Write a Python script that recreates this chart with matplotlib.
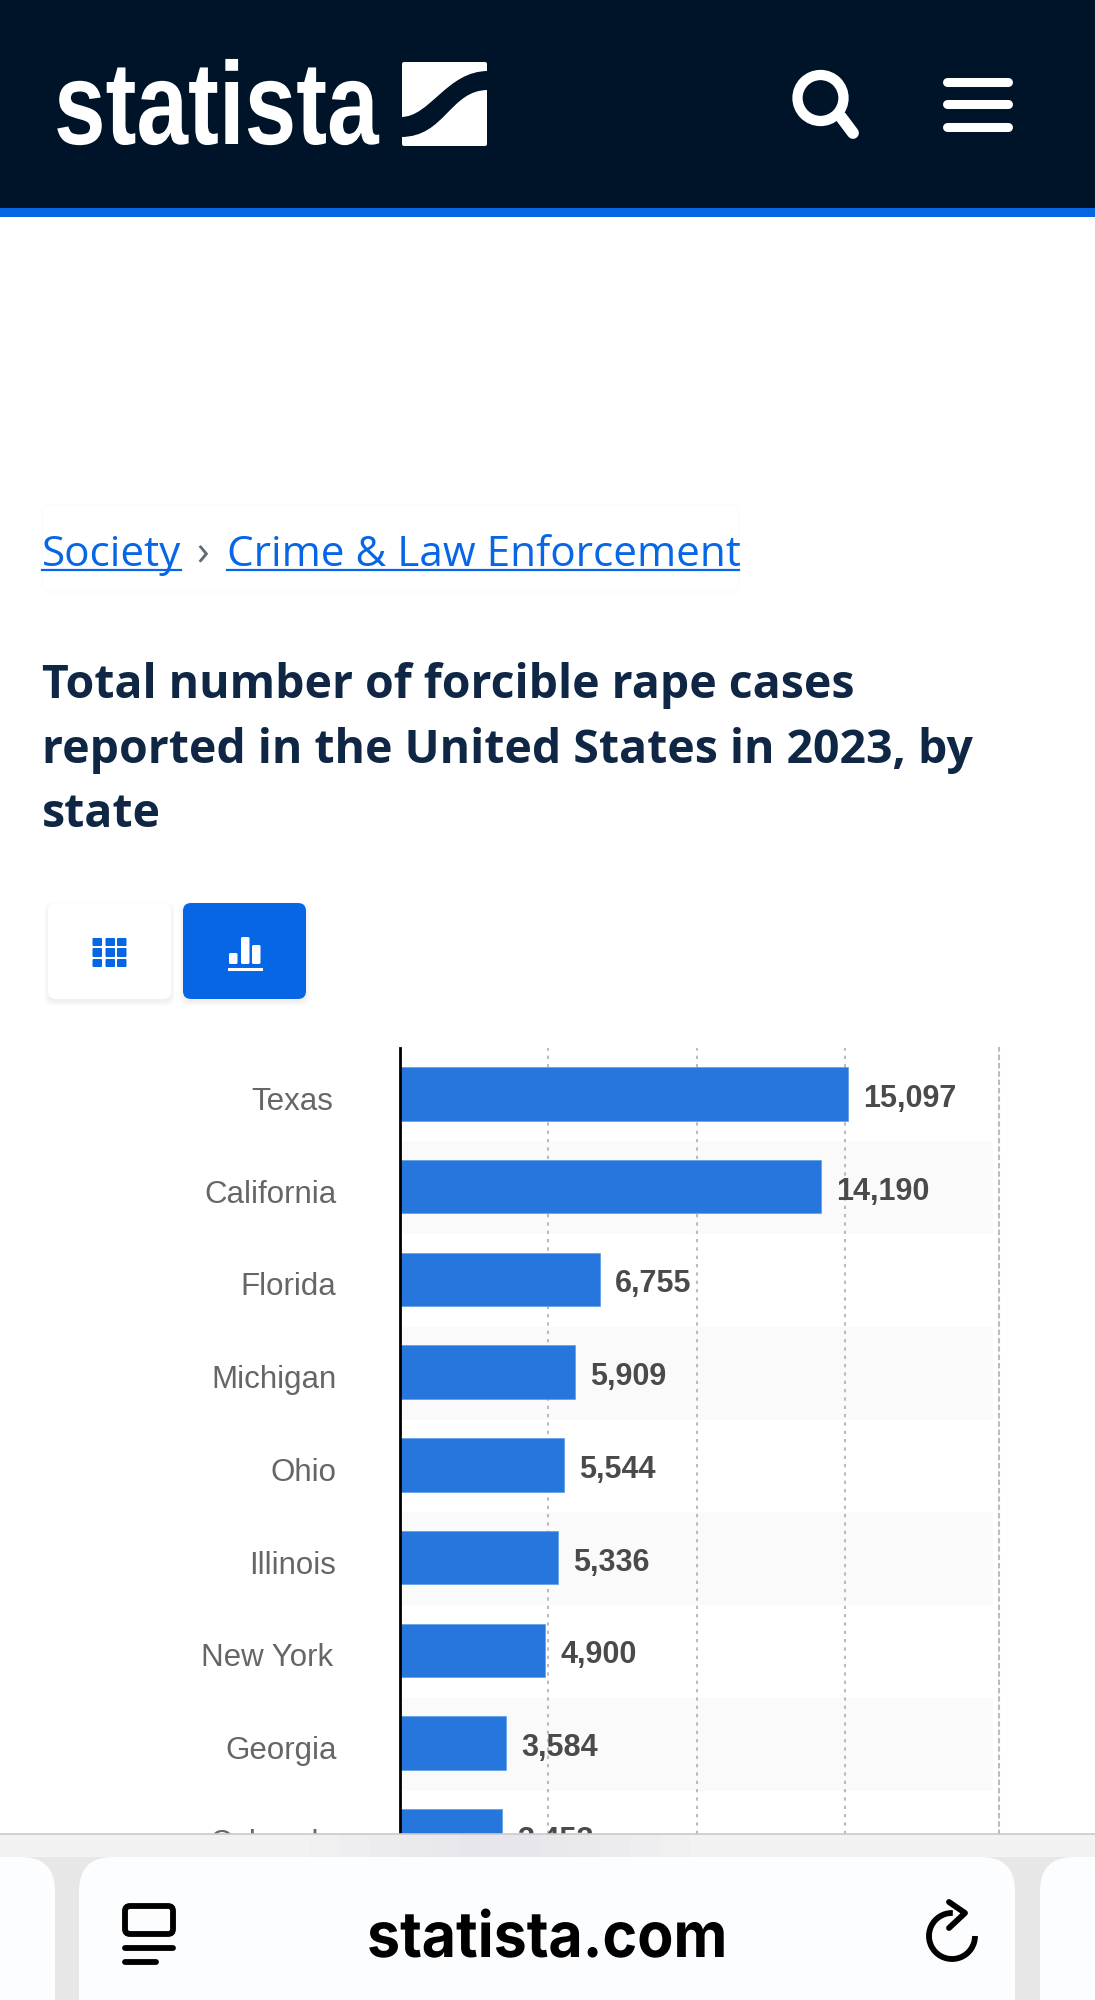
#!/usr/bin/env python3
# Statista mobile page screenshot: forcible rape cases by state, 2023.
# Page furniture is drawn in pixel coords, the chart itself in its own axes.

import matplotlib
matplotlib.use("Agg")
import matplotlib.pyplot as plt
from matplotlib.patches import Rectangle, FancyBboxPatch, PathPatch, Circle, Arc
from matplotlib.path import Path
from matplotlib.patheffects import AbstractPathEffect
from matplotlib.ticker import FixedLocator
from matplotlib.transforms import Affine2D

W, H = 1095, 2000
NAVY = "#001429"
BLUE = "#0666e5"
BAR = "#2776dd"
TITLE = "#0f2744"

# state, cases, small nudge of the label in px (the source labels are not quite aligned)
rows = [
    ("Texas", 15097, -3),
    ("California", 14190, 0),
    ("Florida", 6755, 0),
    ("Michigan", 5909, 0),
    ("Ohio", 5544, 0),
    ("Illinois", 5336, 0),
    ("New York", 4900, -3),
    ("Georgia", 3584, 0),
    ("Colorado", 3453, 0),
]


class Squeeze(AbstractPathEffect):
    # narrows a text around its own left edge, no condensed fonts are installed
    def __init__(self, sx):
        super().__init__()
        self.sx = sx

    def draw_path(self, renderer, gc, tpath, affine, rgbFace=None):
        x0 = affine.to_values()[4]
        squeezed = affine + Affine2D().translate(-x0, 0).scale(self.sx, 1).translate(x0, 0)
        renderer.draw_path(gc, tpath, squeezed, rgbFace)


fig = plt.figure(figsize=(W / 100, H / 100), dpi=100, facecolor="white")


def px_axes(zorder):
    a = fig.add_axes([0, 0, 1, 1], zorder=zorder)
    a.set_xlim(0, W)
    a.set_ylim(H, 0)
    a.axis("off")
    a.patch.set_alpha(0)
    return a


page = px_axes(0)

# header
page.add_patch(Rectangle((0, 0), W, 208, fc=NAVY, ec="none"))
page.add_patch(Rectangle((0, 208), W, 8.5, fc=BLUE, ec="none"))
page.text(54, 144, "statista", color="white", fontsize=84.5, fontweight="bold",
          family="Liberation Sans", ha="left", va="baseline", path_effects=[Squeeze(0.79)])

# logo mark, the dark s-curve cut through a white square
page.add_patch(FancyBboxPatch((402, 62), 85, 84, boxstyle="round,pad=0,rounding_size=2",
                              fc="white", ec="none"))
s_curve = Path(
    [(488, 71), (447, 71), (430, 117), (401, 117),
     (401, 137), (445, 137), (450, 90), (488, 90), (488, 71)],
    [Path.MOVETO, Path.CURVE4, Path.CURVE4, Path.CURVE4,
     Path.LINETO, Path.CURVE4, Path.CURVE4, Path.CURVE4, Path.CLOSEPOLY],
)
page.add_patch(PathPatch(s_curve, fc=NAVY, ec="none"))

# search + menu icons
page.add_patch(Circle((820.5, 98), 23, fc="none", ec="white", lw=7.4))
page.plot([841, 853], [117, 133], color="white", lw=8.5, solid_capstyle="round")
for y in (82, 104, 127):
    page.plot([947, 1008], [y, y], color="white", lw=6.5, solid_capstyle="round")

# breadcrumb
page.add_patch(FancyBboxPatch((42, 505), 697, 87, boxstyle="round,pad=0,rounding_size=6",
                              fc="#ffffff", ec="#fcfcfc", lw=1))
page.text(42, 566, "Society", color=BLUE, fontsize=30.45, family="Open Sans")
page.text(196, 566, "›", color="#5c6b7a", fontsize=30.45, family="Open Sans")
page.text(227, 566, "Crime & Law Enforcement", color=BLUE, fontsize=30.45, family="Open Sans")
page.plot([42, 181], [569.5, 569.5], color=BLUE, lw=1.6)
page.plot([227, 739], [569.5, 569.5], color=BLUE, lw=1.6)

# title
title_lines = [
    (698, "Total number of forcible rape cases"),
    (763, "reported in the United States in 2023, by"),
    (827, "state"),
]
for y, line in title_lines:
    page.text(42, y, line, color=TITLE, fontsize=33.4, fontweight="bold", family="Open Sans")

# table / chart switch
for i in range(5):
    page.add_patch(FancyBboxPatch((48 - i, 903 + 3 - i), 123 + 2 * i, 96 + 2 * i,
                                  boxstyle="round,pad=0,rounding_size=9",
                                  fc="#000000", ec="none", alpha=0.01))
    page.add_patch(FancyBboxPatch((183 - i, 903 + 3 - i), 123 + 2 * i, 96 + 2 * i,
                                  boxstyle="round,pad=0,rounding_size=9",
                                  fc="#000000", ec="none", alpha=0.01))
page.add_patch(FancyBboxPatch((48, 903), 123, 96, boxstyle="round,pad=0,rounding_size=8",
                              fc="white", ec="none"))
page.add_patch(FancyBboxPatch((183, 903), 123, 96, boxstyle="round,pad=0,rounding_size=8",
                              fc=BLUE, ec="none"))
for cx in (92.5, 105.5, 117):
    for cy, ch in ((938, 8), (948, 9), (959, 8)):
        page.add_patch(FancyBboxPatch((cx, cy), 9.5, ch, boxstyle="round,pad=0,rounding_size=1",
                                      fc=BLUE, ec="none"))
for x0, top in ((229, 953), (241, 937), (252, 945)):
    page.add_patch(FancyBboxPatch((x0, top), 8.5, 964 - top, boxstyle="round,pad=0,rounding_size=1.5",
                                  fc="white", ec="none"))
page.plot([229, 261], [969, 969], color="white", lw=2.2)

# the chart; the last x limit is the dotted right border
ax_left, ax_right, ax_top, ax_bottom = 400, 999, 1048, 1834
ax = fig.add_axes([ax_left / W, 1 - ax_bottom / H, (ax_right - ax_left) / W, (ax_bottom - ax_top) / H],
                  zorder=1)
ax.patch.set_alpha(0)
ax.set_xlim(0, 20200)
ax.set_ylim(7.98, -0.496)

ypos = list(range(len(rows)))
vals = [r[1] for r in rows]

# zebra bands reach 20,000
for i in ypos:
    if i % 2 == 1:
        ax.barh(i + 0.012, 20000, height=1, color="#fafafa", zorder=0)

ax.xaxis.set_major_locator(FixedLocator([5000, 10000, 15000]))
ax.grid(axis="x", color="#bcbcbc", lw=1.5, ls=(0, (1.6, 2.4)), zorder=1)
ax.set_axisbelow(True)

ax.barh(ypos, vals, height=0.576, color=BAR, edgecolor="#5d9ce8", linewidth=0.5, zorder=2)

for i, (state, v, nudge) in enumerate(rows):
    ax.annotate(state, xy=(0, i), xytext=(-63.5 + nudge, -16), textcoords="offset pixels",
                ha="right", va="baseline", color="#666666", fontsize=22.5,
                family="Liberation Sans", annotation_clip=False)
    ax.annotate(f"{v:,}", xy=(v, i), xytext=(15, -13), textcoords="offset pixels",
                ha="left", va="baseline", color="#4a4a4a", fontsize=22, fontweight="bold",
                family="Liberation Sans", annotation_clip=False)

ax.set_yticks([])
ax.set_xticklabels([])
ax.tick_params(axis="x", length=0)
for side in ("top", "bottom"):
    ax.spines[side].set_visible(False)
ax.spines["left"].set_color("black")
ax.spines["left"].set_linewidth(2)
ax.spines["left"].set_zorder(3)
ax.spines["right"].set_color("#bcbcbc")
ax.spines["right"].set_linewidth(1.5)
ax.spines["right"].set_linestyle((0, (1.6, 2.4)))

# browser toolbar sits over the chart and cuts off the Colorado row
top = px_axes(5)
top.add_patch(Rectangle((0, 1834), W, H - 1834, fc="#f2f2f2", ec="none"))
top.add_patch(Rectangle((0, 1857), W, H - 1857, fc="#e7e7e7", ec="none"))
# faint blue glow from the page showing through the blur
for half in (40, 70, 100, 130, 160, 190):
    top.add_patch(Rectangle((500 - half, 1835), 2 * half, 22, fc=BLUE, ec="none", alpha=0.006))
top.plot([0, W], [1834, 1834], color="#c9c9c9", lw=1.2)
for x0, x1 in ((-60, 55), (79, 1015), (1040, 1160)):
    top.add_patch(FancyBboxPatch((x0, 1857), x1 - x0, 175, boxstyle="round,pad=0,rounding_size=34",
                                 fc="#fcfdfe", ec="none"))
top.add_patch(FancyBboxPatch((125, 1906), 48, 28, boxstyle="round,pad=0,rounding_size=5",
                             fc="none", ec="black", lw=4.2))
top.plot([125, 173], [1948, 1948], color="black", lw=4.2, solid_capstyle="round")
top.plot([125, 156], [1962, 1962], color="black", lw=4.2, solid_capstyle="round")
top.text(367, 1957, "statista.com", color="black", fontsize=45.5, fontweight="bold",
         family="Inter", ha="left", va="baseline", path_effects=[Squeeze(0.935)])
top.add_patch(Arc((952, 1936), 46, 46, theta1=0, theta2=272, color="black", lw=4.2))
top.plot([949, 965, 949], [1902, 1913, 1928], color="black", lw=4.2,
         solid_capstyle="round", solid_joinstyle="round")

fig.savefig("out.png", dpi=100)
